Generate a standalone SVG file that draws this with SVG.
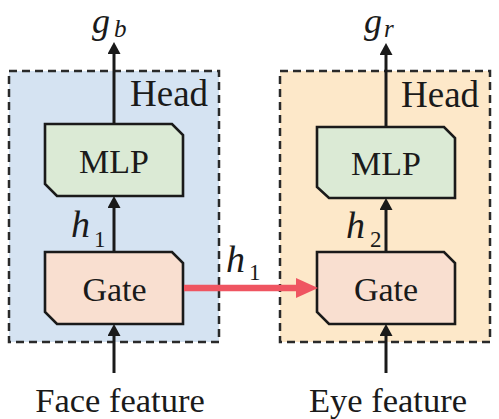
<svg xmlns="http://www.w3.org/2000/svg" width="499" height="419" viewBox="0 0 499 419">
<style>
.t{font-family:"Liberation Serif","Times New Roman",serif;fill:#1a1a1a}
.m{font-family:"Liberation Serif","Times New Roman",serif;font-style:italic;fill:#1a1a1a}
.head{stroke:#2a2a2a;stroke-width:2.5;stroke-dasharray:8 5}
.box{stroke:#1a1a1a;stroke-width:2.6}
.mlp{fill:#dbead5}
.gate{fill:#f9dfd0}
.ar{stroke:#1a1a1a;stroke-width:3;fill:none}
</style>
<defs>
<marker id="ah" markerUnits="userSpaceOnUse" markerWidth="12" markerHeight="13" viewBox="0 0 12 13" refX="6" refY="6.5" orient="auto">
<path d="M0,0 L12,6.5 L0,13 Z" fill="#1a1a1a"/>
</marker>
<marker id="ahr" markerUnits="userSpaceOnUse" markerWidth="22" markerHeight="20" viewBox="0 0 22 20" refX="1" refY="10" orient="auto">
<path d="M0,0 L22,10 L0,20 Z" fill="#ef5561"/>
</marker>
</defs>
<g id="head-left">
<rect x="9" y="71" width="210" height="271" fill="#d5e3f2" class="head"/>
<text x="130" y="106" font-size="37" class="t">Head</text>
</g>
<g id="head-right">
<rect x="280" y="71" width="210" height="271" fill="#fde8c9" class="head"/>
<text x="401" y="107" font-size="37" class="t">Head</text>
</g>
<g id="mlp-left">
<path d="M45,124 H172 L183,135 V196 H57 L45,184 Z" class="box mlp"/>
<text x="114" y="173" font-size="34" text-anchor="middle" class="t">MLP</text>
</g>
<g id="gate-left">
<path d="M45,252 H172 L183,263 V324 H57 L45,312 Z" class="box gate"/>
<text x="114.5" y="301" font-size="34" text-anchor="middle" class="t">Gate</text>
</g>
<g id="mlp-right">
<path d="M317,127 H444 L455,138 V198 H329 L317,187 Z" class="box mlp"/>
<text x="386" y="175" font-size="34" text-anchor="middle" class="t">MLP</text>
</g>
<g id="gate-right">
<path d="M317,252 H444 L455,263 V324 H329 L317,312 Z" class="box gate"/>
<text x="386" y="301" font-size="34" text-anchor="middle" class="t">Gate</text>
</g>
<g id="connectors">
<line x1="114" y1="124" x2="114" y2="48" class="ar" marker-end="url(#ah)"/>
<line x1="114" y1="252" x2="114" y2="202" class="ar" marker-end="url(#ah)"/>
<line x1="114" y1="373" x2="114" y2="330" class="ar" marker-end="url(#ah)"/>
<line x1="386" y1="127" x2="386" y2="49" class="ar" marker-end="url(#ah)"/>
<line x1="386" y1="252" x2="386" y2="204" class="ar" marker-end="url(#ah)"/>
<line x1="386" y1="373" x2="386" y2="330" class="ar" marker-end="url(#ah)"/>
<line x1="184" y1="288" x2="297" y2="288" stroke="#ef5561" stroke-width="6.5" marker-end="url(#ahr)"/>
</g>
<g id="labels">
<text x="92" y="33" font-size="36" class="m">g</text>
<text x="114" y="37" font-size="25" class="m">b</text>
<text x="364" y="33" font-size="36" class="m">g</text>
<text x="384" y="37" font-size="25" class="m">r</text>
<text x="71" y="237" font-size="38" class="m">h</text>
<text x="94" y="247" font-size="23" class="t">1</text>
<text x="226" y="272" font-size="38" class="m">h</text>
<text x="249" y="280" font-size="23" class="t">1</text>
<text x="346" y="238" font-size="38" class="m">h</text>
<text x="370" y="247" font-size="23" class="t">2</text>
<text x="120" y="412" font-size="34.5" text-anchor="middle" class="t">Face feature</text>
<text x="388" y="412" font-size="34.5" text-anchor="middle" class="t">Eye feature</text>
</g>
</svg>
